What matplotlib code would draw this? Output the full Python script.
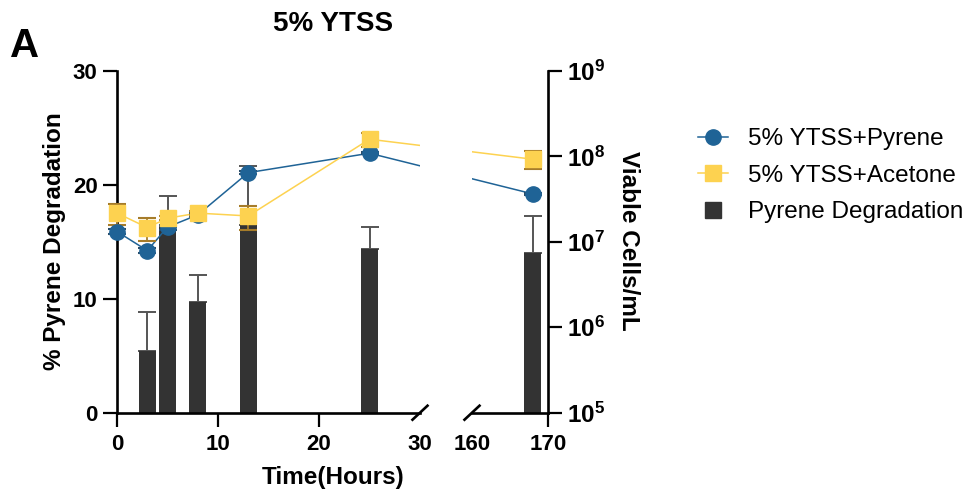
import numpy as np
import matplotlib
matplotlib.use("Agg")
import matplotlib.pyplot as plt
from matplotlib.lines import Line2D
from matplotlib.ticker import NullLocator

# ---- data ----
bar_times = [3, 5, 8, 13, 25, 168]
degradation = [5.4, 16.3, 9.75, 16.5, 14.4, 14.0]
degradation_sd = [3.4, 2.7, 2.3, 5.2, 1.9, 3.3]

cell_times = [0, 3, 5, 8, 13, 25, 168]
pyrene_cells = [1.32e7, 7.9e6, 1.49e7, 2.07e7, 6.46e7, 1.09e8, 3.64e7]
pyrene_sd = [0.1e7, 0.05e7, 0.1e7, 0.1e7, 0.3e7, 0.3e7, 0.1e7]
acetone_cells = [2.17e7, 1.47e7, 1.89e7, 2.17e7, 2.01e7, 1.59e8, 9.27e7]
acetone_sd = [0.6e7, 0.44e7, 0.1e7, 0.1e7, 0.65e7, 0.3e8, 2.2e7]

left_xticks = [0, 10, 20, 30]
right_xticks = [160, 170]
cell_ticks = [1e5, 1e6, 1e7, 1e8, 1e9]

BLUE = "#1f6396"
YELLOW = "#fdd250"
YELLOW_ERR = "#a67c2a"
BAR = "#333333"
BAR_ERR = "#555555"

plt.rcParams["font.family"] = ["Liberation Sans", "DejaVu Sans"]
plt.rcParams["mathtext.fontset"] = "custom"
plt.rcParams["mathtext.rm"] = "Liberation Sans"
plt.rcParams["mathtext.bf"] = "Liberation Sans:bold"

W, H = 972, 494
fig = plt.figure(figsize=(W / 100, H / 100), dpi=100)

# axes geometry in pixels
x0, x30 = 117, 420        # left segment 0..30 h
x160, x170 = 472, 548     # right segment 160..170 h
ytop, ybot = 71, 412.7
px_left = (x30 - x0) / 30
px_right = (x170 - x160) / 10
k = px_right / px_left
gap = (x160 - x30) / px_left

# piecewise broken time scale so lines run straight across the break
T_BRK = [-1000, 30, 160, 2000]
U_BRK = [-1000, 30, 30 + gap, 30 + gap + 1840 * k]
fwd = lambda t: np.interp(t, T_BRK, U_BRK)
inv = lambda u: np.interp(u, U_BRK, T_BRK)

bottom = 1 - ybot / H
height = (ybot - ytop) / H
ax1 = fig.add_axes([x0 / W, bottom, (x30 - x0) / W, height])
ax2 = fig.add_axes([x160 / W, bottom, (x170 - x160) / W, height], sharey=ax1)
for ax in (ax1, ax2):
    ax.set_xscale("function", functions=(fwd, inv))
    ax.patch.set_visible(False)
ax1.set_xlim(0, 30)
ax2.set_xlim(160, 170)
ax1.set_ylim(0, 30)

ax1r = ax1.twinx()
ax2r = ax2.twinx()
for ax in (ax1r, ax2r):
    ax.set_yscale("log")
    ax.set_ylim(1e5, 1e9)

# bars: constant pixel width in both segments
bt = np.array(bar_times, dtype=float)
hw = 17.3 / px_left / 2
bar_w = inv(fwd(bt) + hw) - inv(fwd(bt) - hw)
deg = np.array(degradation)
deg_sd = np.array(degradation_sd)
for ax in (ax1, ax2):
    ax.bar(bt, deg, width=bar_w, color=BAR, zorder=2)
    ax.errorbar(bt, deg, yerr=[np.zeros_like(deg_sd), deg_sd], fmt="none",
                ecolor=BAR_ERR, elinewidth=1.4, capsize=6.5, capthick=1.4, zorder=1)

# cell counts
ct = np.array(cell_times, dtype=float)
series = [
    (pyrene_cells, pyrene_sd, BLUE, "o", 11, "#2a4d6a"),
    (acetone_cells, acetone_sd, YELLOW, "s", 11.5, YELLOW_ERR),
]
for ax, lo, hi in ((ax1r, 0, 30), (ax2r, 160, 170)):
    m = (ct >= lo) & (ct <= hi)
    for vals, sd, col, mk, ms, ecol in series:
        vals = np.array(vals)
        sd = np.array(sd)
        ax.plot(ct, vals, color=col, lw=1.1, zorder=2)
        ax.errorbar(ct[m], vals[m], yerr=sd[m], fmt=mk, ms=ms, color=col,
                    mec=col, ecolor=ecol, elinewidth=1.3, capsize=6.5,
                    capthick=1.5, zorder=3, clip_on=False)

# spines and ticks
lw_sp = 1.9
tick_font = dict(family="Liberation Sans", weight="bold", size=16)
for ax in (ax1, ax2, ax1r, ax2r):
    for s in ax.spines.values():
        s.set_visible(False)
        s.set_linewidth(lw_sp)
ax1.spines["left"].set_visible(True)
ax1.spines["bottom"].set_visible(True)
ax2.spines["bottom"].set_visible(True)
ax2r.spines["right"].set_visible(True)

ax1.set_xticks(left_xticks)
ax2.set_xticks(right_xticks)
ax1.set_yticks([0, 10, 20, 30])
ax2.tick_params(axis="y", left=False, labelleft=False)
ax1r.tick_params(axis="y", right=False, labelright=False, which="both")
ax1r.yaxis.set_minor_locator(NullLocator())
ax2r.yaxis.set_minor_locator(NullLocator())
ax2r.set_yticks(cell_ticks)
ax2r.set_yticklabels([r"$\mathbf{10^{%d}}$" % int(np.log10(v)) for v in cell_ticks])

for ax in (ax1, ax2, ax2r):
    ax.tick_params(length=10, width=1.6, pad=5)
    for lab in ax.get_xticklabels() + ax.get_yticklabels():
        lab.set_fontproperties(tick_font)
ax2r.tick_params(axis="y", labelsize=17.5, pad=3.5)
ax1.tick_params(axis="y", pad=4)

# no tick line at the broken ends
ax1.xaxis.get_major_ticks()[-1].tick1line.set_visible(False)
ax2.xaxis.get_major_ticks()[0].tick1line.set_visible(False)

# break marks
dx1, dx2, dy = 7.5 / (x30 - x0), 7.5 / (x170 - x160), 7 / (ybot - ytop)
ax1.plot([1 - dx1, 1 + dx1], [-dy, dy], transform=ax1.transAxes,
         color="black", lw=lw_sp, clip_on=False)
ax2.plot([-dx2, dx2], [-dy, dy], transform=ax2.transAxes,
         color="black", lw=lw_sp, clip_on=False)

# labels
lab_font = dict(family="Liberation Sans", weight="bold", size=17.5)
fig.text(333 / W, 1 - 477 / H, "Time(Hours)", ha="center", va="center", **lab_font)
fig.text(55 / W, 1 - 241 / H, "% Pyrene Degradation", rotation=90,
         ha="center", va="center", **lab_font)
fig.text(628 / W, 1 - 241 / H, "Viable Cells/mL", rotation=270,
         ha="center", va="center", **lab_font)
fig.text(333 / W, 1 - 24 / H, "5% YTSS", ha="center", va="center",
         family="Liberation Sans", weight="bold", size=20)
fig.text(10 / W, 1 - 57 / H, "A", ha="left", va="baseline",
         family="Liberation Sans", weight="bold", size=29)

# legend
handles = [
    Line2D([], [], color=BLUE, marker="o", ms=11, lw=1.1),
    Line2D([], [], color=YELLOW, marker="s", ms=11.5, lw=1.1),
    Line2D([], [], color=BAR, marker="s", ms=12, lw=0),
]
labels = ["5% YTSS+Pyrene", "5% YTSS+Acetone", "Pyrene Degradation"]
fig.legend(handles, labels, loc="upper left", bbox_to_anchor=(698 / W, 1 - 128 / H),
           frameon=False, borderaxespad=0, borderpad=0, handlelength=1.25,
           handletextpad=0.8, labelspacing=0.6,
           prop=dict(family="Liberation Sans", size=17.5))

fig.savefig("out.png", dpi=100)
